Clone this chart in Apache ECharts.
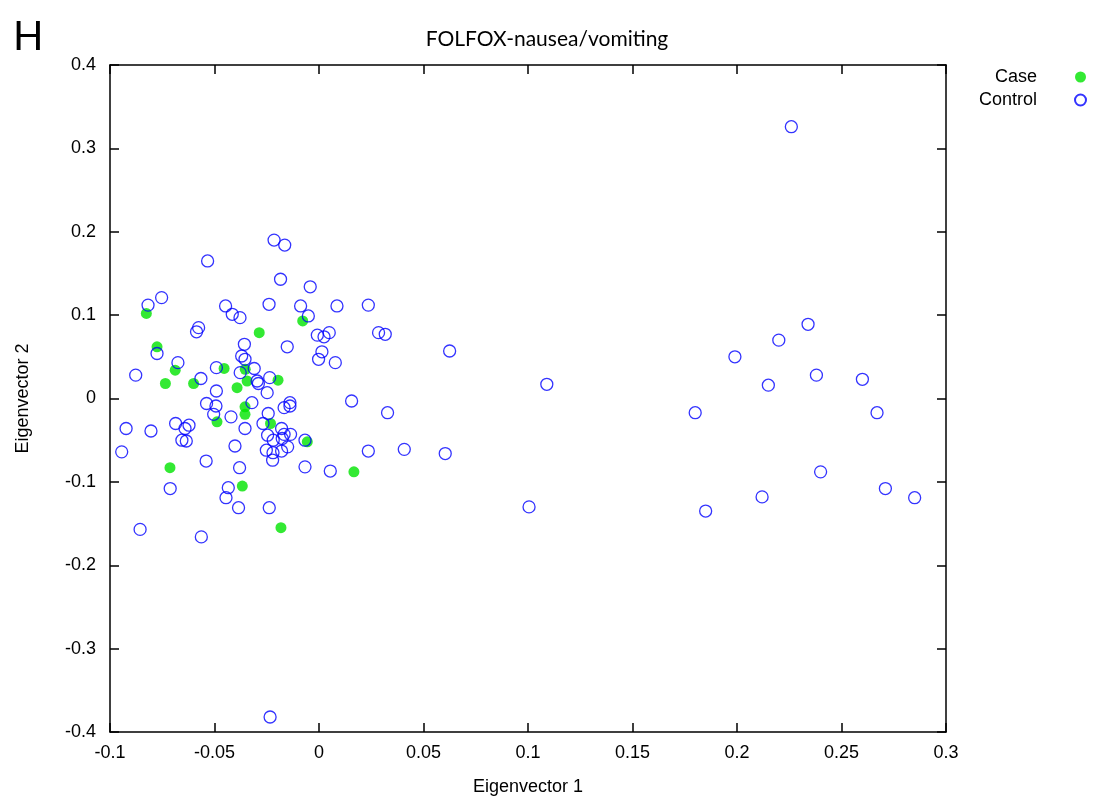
<!DOCTYPE html>
<html>
<head>
<meta charset="utf-8">
<script src="https://cdn.jsdelivr.net/npm/echarts@6/dist/echarts.min.js"></script>
<style>
  html, body { margin: 0; padding: 0; background: #fff; }
  #chart_id { width: 1094px; height: 804px; }
</style>
</head>
<body>
<div id="chart_id"></div>
<script>
// Case (filled green) points [eigenvector1, eigenvector2]
var casePoints = [
  [-0.0826, 0.102], [-0.0078, 0.093], [-0.0286, 0.079], [-0.0775, 0.062],
  [-0.0688, 0.034], [-0.0454, 0.036], [-0.0353, 0.035], [-0.0735, 0.018],
  [-0.060, 0.018], [-0.0344, 0.021], [-0.0392, 0.013], [-0.0196, 0.022],
  [-0.0354, -0.010], [-0.0354, -0.019], [-0.0488, -0.028], [-0.0232, -0.030],
  [-0.0056, -0.052], [-0.0713, -0.083], [-0.0367, -0.105], [0.0167, -0.088],
  [-0.0182, -0.155]
];
// Control (open blue) points
var controlPoints = [
  [-0.0215, 0.190], [-0.0164, 0.184], [-0.0533, 0.165], [-0.0184, 0.143],
  [-0.0042, 0.134], [-0.0753, 0.121], [-0.0818, 0.112], [-0.0447, 0.111],
  [-0.0239, 0.113], [-0.0088, 0.111], [0.0086, 0.111], [0.0236, 0.112],
  [-0.0415, 0.101], [-0.0378, 0.097], [-0.0051, 0.099], [-0.0576, 0.085],
  [-0.0586, 0.080], [-0.0008, 0.076], [0.0024, 0.074], [0.0049, 0.079],
  [0.0285, 0.079], [0.0317, 0.077], [-0.0775, 0.054], [-0.0357, 0.065],
  [-0.0152, 0.062], [-0.037, 0.051], [-0.0354, 0.047], [0.0014, 0.056],
  [-0.0002, 0.047], [0.0078, 0.043], [0.0625, 0.057], [-0.0675, 0.043],
  [-0.0877, 0.028], [-0.0565, 0.024], [-0.0491, 0.037], [-0.0377, 0.031],
  [-0.031, 0.036], [-0.0296, 0.021], [-0.029, 0.018], [-0.0236, 0.025],
  [-0.0491, 0.009], [-0.0248, 0.007], [0.0156, -0.003], [-0.0139, -0.005],
  [-0.0139, -0.009], [-0.0167, -0.011], [-0.0321, -0.005], [-0.0538, -0.006],
  [-0.0493, -0.009], [-0.0504, -0.019], [-0.0421, -0.022], [-0.0243, -0.018],
  [0.0328, -0.017], [-0.0268, -0.030], [-0.0923, -0.036], [-0.0804, -0.039],
  [-0.0686, -0.030], [-0.0641, -0.036], [-0.0622, -0.032], [-0.0656, -0.050],
  [-0.0635, -0.051], [-0.0944, -0.064], [-0.0354, -0.036], [-0.0402, -0.057],
  [-0.0246, -0.044], [-0.0219, -0.050], [-0.0176, -0.048], [-0.0167, -0.043],
  [-0.0136, -0.043], [-0.0179, -0.036], [-0.0252, -0.062], [-0.022, -0.065],
  [-0.0179, -0.063], [-0.015, -0.058], [-0.0222, -0.074], [-0.0067, -0.050],
  [-0.0067, -0.082], [0.0054, -0.087], [0.0236, -0.063], [0.0408, -0.061],
  [0.0604, -0.066], [-0.054, -0.075], [-0.038, -0.083], [-0.0712, -0.108],
  [-0.0434, -0.107], [-0.0445, -0.119], [-0.0385, -0.131], [-0.0238, -0.131],
  [-0.0856, -0.157], [-0.0563, -0.166], [-0.0234, -0.382],
  [0.109, 0.017], [0.1005, -0.130],
  [0.226, 0.326], [0.234, 0.089], [0.220, 0.070], [0.199, 0.050],
  [0.238, 0.028], [0.260, 0.023], [0.215, 0.016], [0.180, -0.017],
  [0.267, -0.017], [0.240, -0.088], [0.271, -0.108], [0.285, -0.119],
  [0.212, -0.118], [0.185, -0.135]
];
var seriesNames = ['Case', 'Control'];
var xRange = [-0.1, 0.3], xStep = 0.05;
var yRange = [-0.4, 0.4], yStep = 0.1;

var chart = echarts.init(document.getElementById('chart_id'));
var labelFont = 'Liberation Sans';

function axisBase(show) {
  return {
    type: 'value',
    axisLine: { show: true, onZero: false, lineStyle: { color: '#000', width: 1.5 } },
    axisTick: { show: true, inside: true, length: 9, lineStyle: { color: '#000', width: 1.5 } },
    splitLine: { show: false },
    axisLabel: { show: show, color: '#000', fontSize: 18, fontFamily: labelFont }
  };
}

var xBottom = Object.assign(axisBase(true), {
  position: 'bottom', min: xRange[0], max: xRange[1], interval: xStep,
  name: 'Eigenvector 1', nameLocation: 'middle', nameGap: 46,
  nameTextStyle: { color: '#000', fontSize: 18, fontFamily: labelFont }
});
xBottom.axisLabel.margin = 12;
var xTop = Object.assign(axisBase(false), {
  position: 'top', min: xRange[0], max: xRange[1], interval: xStep
});
var yLeft = Object.assign(axisBase(true), {
  position: 'left', min: yRange[0], max: yRange[1], interval: yStep,
  name: 'Eigenvector 2', nameLocation: 'middle', nameGap: 78,
  nameTextStyle: { color: '#000', fontSize: 18, fontFamily: labelFont }
});
yLeft.axisLabel.margin = 14;
var yRight = Object.assign(axisBase(false), {
  position: 'right', min: yRange[0], max: yRange[1], interval: yStep
});

var option = {
  animation: false,
  backgroundColor: '#fff',
  title: [
    { text: 'FOLFOX-nausea/vomiting', left: 'center', top: 24,
      textStyle: { fontFamily: 'Lato', fontWeight: 'normal', fontSize: 21, color: '#000' } },
    { text: 'H', left: 8, top: 12,
      textStyle: { fontFamily: 'Lato', fontWeight: 'normal', fontSize: 40, color: '#000' } }
  ],
  grid: { left: 110, right: 148, top: 65, bottom: 72, containLabel: false },
  legend: {
    orient: 'vertical', right: 2, top: 63, align: 'right',
    itemWidth: 11, itemHeight: 11, itemGap: 5,
    textStyle: { fontSize: 18, fontFamily: labelFont, color: '#000', padding: [0, 33, 0, 0] },
    data: [
      { name: seriesNames[0], icon: 'circle' },
      { name: seriesNames[1], icon: 'circle' }
    ]
  },
  xAxis: [xBottom, xTop],
  yAxis: [yLeft, yRight],
  series: [
    {
      name: seriesNames[0], type: 'scatter', data: casePoints,
      symbol: 'circle', symbolSize: 11,
      itemStyle: { color: '#00e400' }
    },
    {
      name: seriesNames[1], type: 'scatter', data: controlPoints,
      symbol: 'circle', symbolSize: 12,
      itemStyle: { color: 'rgba(255,255,255,0)', borderColor: '#0000ff', borderWidth: 1.3 }
    }
  ]
};
chart.setOption(option);
</script>
</body>
</html>
